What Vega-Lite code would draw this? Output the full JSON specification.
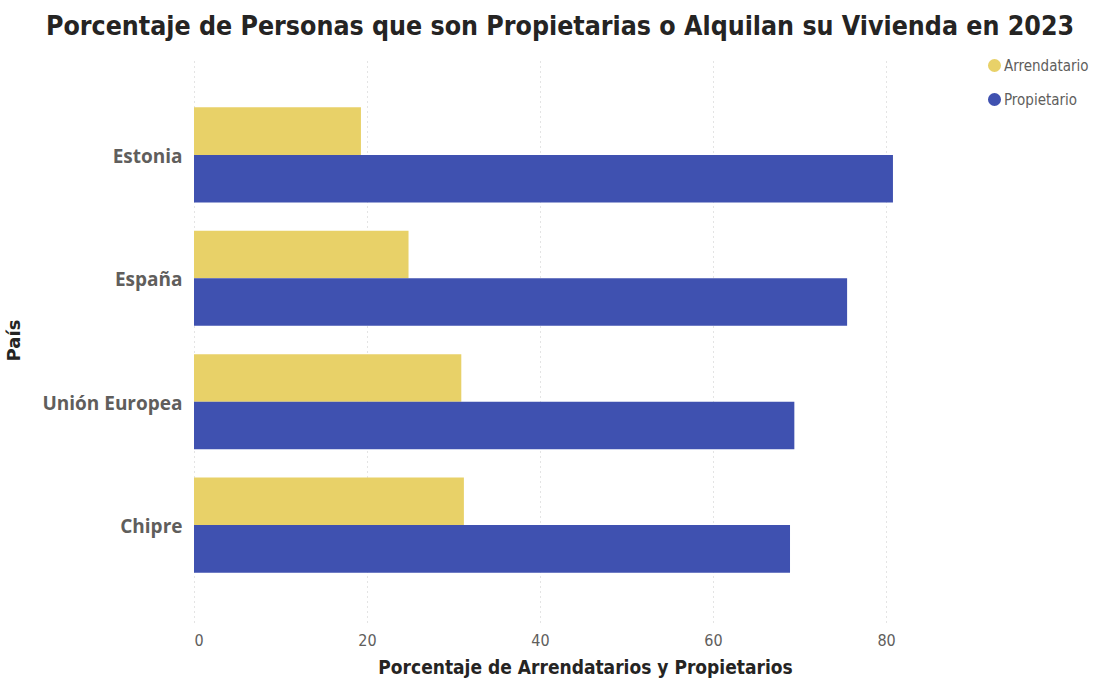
{
  "$schema": "https://vega.github.io/schema/vega-lite/v6.json",
  "autosize": {"type": "none"},
  "width": 782,
  "height": 564,
  "padding": {"left": 194, "top": 58, "right": 124, "bottom": 58},
  "background": "white",
  "title": {
    "text": "Porcentaje de Personas que son Propietarias o Alquilan su Vivienda en 2023",
    "font": "DejaVu Sans Condensed",
    "fontSize": 26.5,
    "fontWeight": "bold",
    "color": "#252423",
    "anchor": "middle",
    "frame": "group",
    "dx": -25,
    "offset": 18
  },
  "data": {
    "values": [
      {"pais": "Estonia", "tipo": "Arrendatario", "valor": 19.3},
      {"pais": "Estonia", "tipo": "Propietario", "valor": 80.8},
      {"pais": "España", "tipo": "Arrendatario", "valor": 24.8},
      {"pais": "España", "tipo": "Propietario", "valor": 75.5},
      {"pais": "Unión Europea", "tipo": "Arrendatario", "valor": 30.9},
      {"pais": "Unión Europea", "tipo": "Propietario", "valor": 69.4},
      {"pais": "Chipre", "tipo": "Arrendatario", "valor": 31.2},
      {"pais": "Chipre", "tipo": "Propietario", "valor": 68.9}
    ]
  },
  "mark": {"type": "bar"},
  "encoding": {
    "y": {
      "field": "pais",
      "type": "nominal",
      "sort": ["Estonia", "España", "Unión Europea", "Chipre"],
      "scale": {"paddingInner": 0.23, "paddingOuter": 0.4},
      "axis": {
        "title": "País",
        "titleFont": "DejaVu Sans",
        "titleFontSize": 18,
        "titleFontWeight": "bold",
        "titleColor": "#252423",
        "titlePadding": 18,
        "labelFont": "Open Sans",
        "labelFontSize": 19,
        "labelFontWeight": "bold",
        "labelColor": "#605E5C",
        "labelPadding": 12,
        "labelOffset": 2,
        "ticks": false,
        "domain": false,
        "grid": false
      }
    },
    "yOffset": {
      "field": "tipo",
      "type": "nominal",
      "sort": ["Arrendatario", "Propietario"]
    },
    "x": {
      "field": "valor",
      "type": "quantitative",
      "scale": {"domain": [0, 90.4], "nice": false},
      "axis": {
        "title": "Porcentaje de Arrendatarios y Propietarios",
        "titleFont": "DejaVu Sans Condensed",
        "titleFontSize": 19,
        "titleFontWeight": "bold",
        "titleColor": "#252423",
        "titlePadding": 10,
        "labelFont": "DejaVu Sans Condensed",
        "labelFontSize": 16,
        "labelColor": "#605E5C",
        "labelPadding": 10,
        "values": [0, 20, 40, 60, 80],
        "ticks": false,
        "domain": false,
        "grid": true,
        "gridColor": "#C8C8C8",
        "gridDash": [1, 4],
        "gridWidth": 1
      }
    },
    "color": {
      "field": "tipo",
      "type": "nominal",
      "scale": {"domain": ["Arrendatario", "Propietario"], "range": ["#E8D168", "#3F51B0"]},
      "legend": {
        "title": null,
        "orient": "none",
        "legendX": 793,
        "legendY": 0,
        "symbolType": "circle",
        "symbolSize": 170,
        "labelFont": "DejaVu Sans Condensed",
        "labelFontSize": 15,
        "labelColor": "#605E5C",
        "labelOffset": 2,
        "rowPadding": 18
      }
    }
  },
  "config": {"view": {"stroke": null}}
}
